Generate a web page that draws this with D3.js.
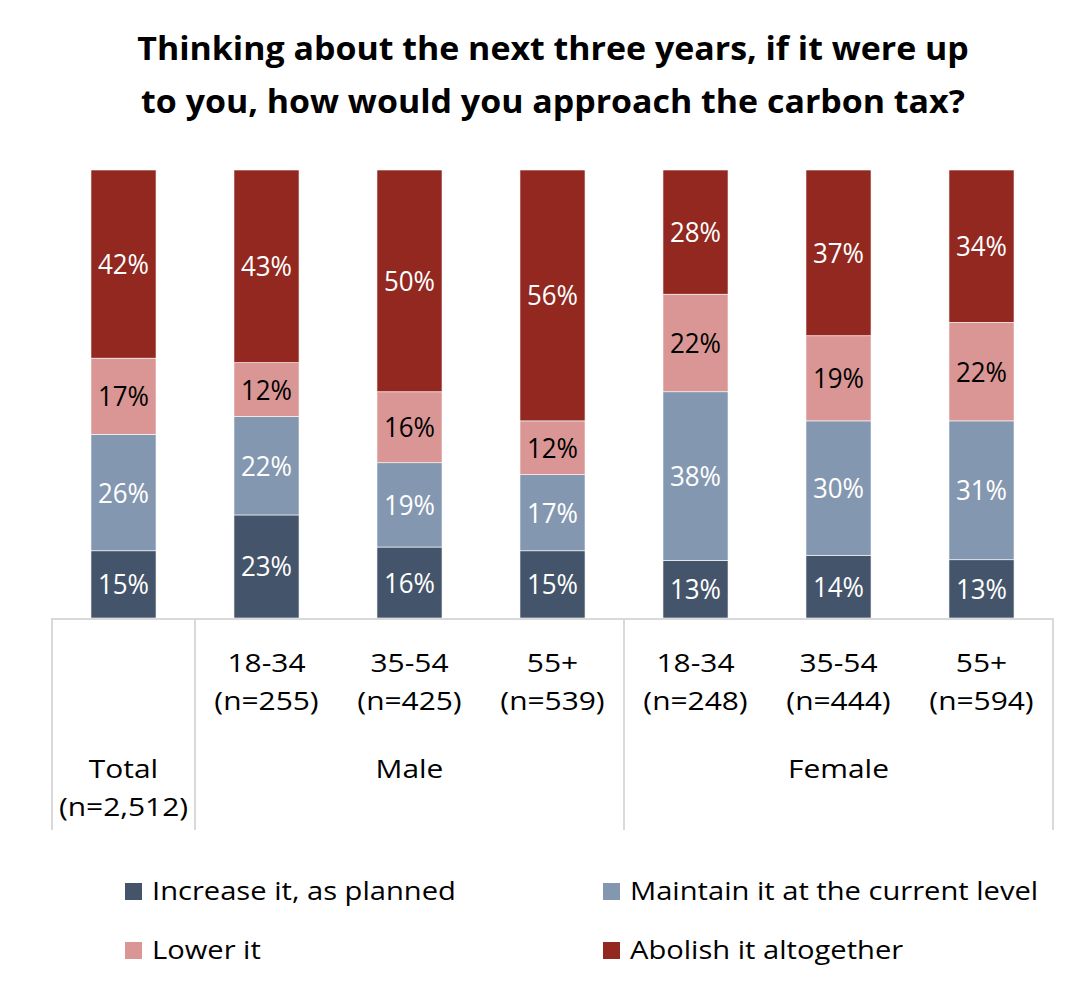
<!DOCTYPE html>
<html><head><meta charset="utf-8">
<script src="https://cdn.jsdelivr.net/npm/d3@7"></script>
<style>body{margin:0;background:#fff}</style>
</head><body>
<script>
const categories = ["Total", "M18-34", "M35-54", "M55+", "F18-34", "F35-54", "F55+"];
const ageLabels = ["", "18-34", "35-54", "55+", "18-34", "35-54", "55+"];
const nLabels = ["", "(n=255)", "(n=425)", "(n=539)", "(n=248)", "(n=444)", "(n=594)"];
const groups = [
  {name: "Total", sub: "(n=2,512)", from: 0, to: 0},
  {name: "Male", sub: "", from: 1, to: 3},
  {name: "Female", sub: "", from: 4, to: 6}
];
const seriesNames = ["Increase it, as planned", "Maintain it at the current level", "Lower it", "Abolish it altogether"];
const increase = [15, 23, 16, 15, 13, 14, 13];
const maintain = [26, 22, 19, 17, 38, 30, 31];
const lower    = [17, 12, 16, 12, 22, 19, 22];
const abolish  = [42, 43, 50, 56, 28, 37, 34];
const colors = ["#44546a", "#8497b0", "#da9694", "#922820"];
const labelColors = ["#ffffff", "#ffffff", "#000000", "#ffffff"];
const title = ["Thinking about the next three years, if it were up", "to you, how would you approach the carbon tax?"];

(function () {
const W = 1080, H = 999;
const font = "'Open Sans', sans-serif";
const svg = d3.select("body").append("svg").attr("width", W).attr("height", H)
  .style("font-family", font);

function stretch(sel, sx) {
  sel.each(function () {
    const len = this.getComputedTextLength();
    if (len > 0) d3.select(this).attr("textLength", len * sx).attr("lengthAdjust", "spacingAndGlyphs");
  });
}

svg.append("g").selectAll("text").data(title).join("text")
  .attr("x", 553).attr("y", (d, i) => 60 + i * 53)
  .attr("text-anchor", "middle").attr("font-weight", "bold")
  .attr("font-size", 32).attr("fill", "#000").text(d => d)
  .call(stretch, 1.06);

const keys = ["increase", "maintain", "lower", "abolish"];
const rows = categories.map((c, i) => ({cat: c, increase: increase[i], maintain: maintain[i], lower: lower[i], abolish: abolish[i]}));
const stack = d3.stack().keys(keys).offset(d3.stackOffsetExpand);
const stacked = stack(rows);

const pLeft = 52, pRight = 1053, pTop = 170, pBottom = 618;
const x = d3.scaleBand().domain(categories).range([pLeft, pRight]).paddingInner(0.545).paddingOuter(0.2725);
const y = d3.scaleLinear().domain([0, 1]).range([pBottom, pTop]);

const g = svg.append("g");
stacked.forEach((s, si) => {
  const layer = g.append("g");
  layer.selectAll("rect").data(s).join("rect")
    .attr("x", d => x(d.data.cat)).attr("width", x.bandwidth())
    .attr("y", d => y(d[1])).attr("height", d => y(d[0]) - y(d[1]))
    .attr("fill", colors[si]).attr("stroke", "#fff").attr("stroke-width", 0.6);
  layer.selectAll("text").data(s).join("text")
    .attr("x", d => x(d.data.cat) + x.bandwidth() / 2)
    .attr("y", d => (y(d[0]) + y(d[1])) / 2 + 10)
    .attr("text-anchor", "middle").attr("font-size", 27)
    .attr("fill", labelColors[si])
    .text(d => d.data[keys[si]] + "%")
    .call(stretch, 0.96);
});

const step = x.step();
const axisColor = "#d9d9d9";
const ax = svg.append("g");
ax.append("line").attr("x1", pLeft).attr("x2", pRight).attr("y1", pBottom + 1).attr("y2", pBottom + 1)
  .attr("stroke", axisColor).attr("stroke-width", 2);
const bounds = [pLeft, pLeft + step, pLeft + 4 * step, pRight];
ax.selectAll("line.v").data(bounds).join("line").attr("class", "v")
  .attr("x1", d => d).attr("x2", d => d).attr("y1", pBottom).attr("y2", 830)
  .attr("stroke", axisColor).attr("stroke-width", 2);

const catCenter = c => x(c) + x.bandwidth() / 2;
const lblSize = 26, lblSx = 1.15, legSx = 1.12;
ax.selectAll("text.age").data(categories).join("text").attr("class", "age")
  .attr("x", catCenter).attr("y", 672).attr("text-anchor", "middle")
  .attr("font-size", lblSize).attr("fill", "#000").text((d, i) => ageLabels[i]).call(stretch, lblSx);
ax.selectAll("text.n").data(categories).join("text").attr("class", "n")
  .attr("x", catCenter).attr("y", 710).attr("text-anchor", "middle")
  .attr("font-size", lblSize).attr("fill", "#000").text((d, i) => nLabels[i]).call(stretch, lblSx);
const gc = d => (catCenter(categories[d.from]) + catCenter(categories[d.to])) / 2;
ax.selectAll("text.grp").data(groups).join("text").attr("class", "grp")
  .attr("x", gc).attr("y", 778).attr("text-anchor", "middle")
  .attr("font-size", lblSize).attr("fill", "#000").text(d => d.name).call(stretch, lblSx);
ax.selectAll("text.grp2").data(groups).join("text").attr("class", "grp2")
  .attr("x", gc).attr("y", 816).attr("text-anchor", "middle")
  .attr("font-size", lblSize).attr("fill", "#000").text(d => d.sub).call(stretch, lblSx);

const legPos = [[125, 883], [603, 883], [125, 942], [603, 942]];
const leg = svg.append("g");
seriesNames.forEach((n, i) => {
  const [lx, ly] = legPos[i];
  leg.append("rect").attr("x", lx).attr("y", ly).attr("width", 17).attr("height", 17).attr("fill", colors[i]);
  leg.append("text").attr("x", lx + 27).attr("y", ly + 17).attr("font-size", lblSize).attr("fill", "#000").text(n).call(stretch, legSx);
});
})();
</script>
</body></html>
